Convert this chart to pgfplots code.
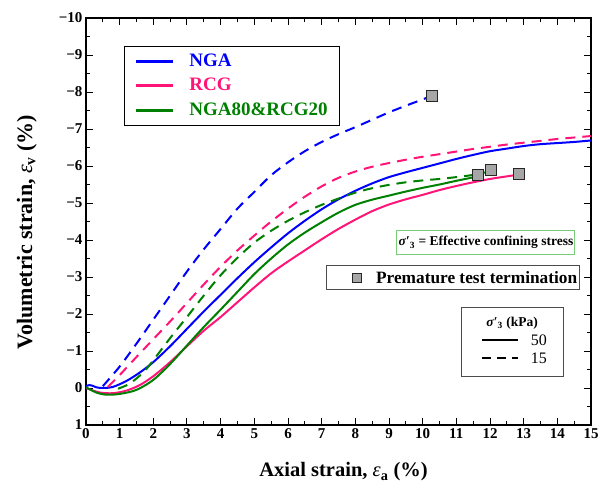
\documentclass[border=0pt]{standalone}
\usepackage{fontspec}
\setmainfont{Liberation Serif}
\usepackage{pgfplots}
\pgfplotsset{compat=1.18}
\usetikzlibrary{calc}
\definecolor{cblue}{RGB}{0,0,255}
\definecolor{cpink}{RGB}{255,20,120}
\definecolor{cgreen}{RGB}{0,128,0}
\definecolor{boxgreen}{RGB}{120,205,120}
\begin{document}
\begin{tikzpicture}
\begin{axis}[
  width=505pt, height=407pt, scale only axis,
  xmin=0, xmax=15, ymin=-10, ymax=1, y dir=reverse,
  xtick={0,1,...,15}, ytick={-10,-9,...,1},
  yticklabels={−10,−9,−8,−7,−6,−5,−4,−3,−2,−1,0,1},
  minor x tick num=1, minor y tick num=1,
  tick align=inside, tick pos=both,
  major tick length=7pt, minor tick length=4pt,
  every tick/.style={black, line width=1pt},
  axis line style={line width=1.2pt},
  /pgf/number format/assume math mode=true,
  ticklabel style={font=\bfseries\fontsize{15}{15}\selectfont},
  xlabel={Axial strain, {\mdseries\itshape ε}\textsubscript{a} (\%)},
  ylabel={Volumetric strain, {\mdseries\itshape ε}\textsubscript{v} (\%)},
  xlabel style={at={(axis description cs:0.51,-0.1155)}, anchor=center,
    font=\bfseries\fontsize{20.5}{20.5}\selectfont},
  ylabel style={at={(axis description cs:-0.117,0.474)}, anchor=center,
    font=\bfseries\fontsize{22}{22}\selectfont},
  legend style={at={(axis description cs:0.075,0.931)}, anchor=north west,
    draw=black, line width=1.1pt, inner xsep=10pt, inner ysep=4pt,
    font=\bfseries\fontsize{19}{19}\selectfont,
    nodes={inner sep=2pt, text height=13.5pt, text depth=4pt},
    row sep=3pt, column sep=13pt},
  legend cell align=left,
  legend image code/.code={\draw[#1, solid, line width=3pt] (0pt,0pt) -- (37pt,0pt);},
  every axis plot/.append style={line width=2pt},
]
% ---- solid: sigma'3 = 50 kPa
\addplot[cblue, smooth, tension=0.5] coordinates {
(0,-0.05) (0.1,-0.08) (0.2,-0.06) (0.3,-0.02) (0.5,0.0) (0.8,-0.03)
(1.2,-0.19) (1.6,-0.42) (2.0,-0.7) (2.5,-1.13) (3.0,-1.6) (3.5,-2.07)
(4.0,-2.52) (4.5,-2.97) (5.0,-3.4) (5.5,-3.8) (6.0,-4.18) (6.5,-4.52)
(7.0,-4.83) (7.5,-5.1) (8.0,-5.33) (8.5,-5.53) (9.0,-5.7) (9.5,-5.83)
(10.0,-5.95) (10.5,-6.07) (11.0,-6.19) (11.5,-6.3) (12.0,-6.4) (12.5,-6.47)
(13.0,-6.54) (13.5,-6.59) (14.0,-6.62) (14.5,-6.65) (15,-6.69)};
\addlegendentry{\textcolor{cblue}{NGA}}
\addplot[cpink, smooth, tension=0.5] coordinates {
(0,0) (0.4,0.12) (0.8,0.14) (1.2,0.07) (1.6,-0.08) (2.0,-0.32) (2.5,-0.7)
(3.0,-1.13) (3.5,-1.55) (4.0,-1.92) (4.5,-2.32) (5.0,-2.72) (5.5,-3.1)
(6.0,-3.42) (6.5,-3.72) (7.0,-4.02) (7.5,-4.3) (8.0,-4.55) (8.5,-4.78)
(9.0,-4.96) (9.5,-5.1) (10.0,-5.22) (10.5,-5.35) (11.0,-5.46) (11.5,-5.56)
(12.0,-5.65) (12.5,-5.72) (12.87,-5.77)};
\addlegendentry{\textcolor{cpink}{RCG}}
\addplot[cgreen, smooth, tension=0.5] coordinates {
(0,-0.02) (0.3,0.12) (0.6,0.18) (1.0,0.16) (1.5,0.05) (2.0,-0.22) (2.5,-0.65)
(3.0,-1.15) (3.5,-1.65) (4.0,-2.12) (4.5,-2.6) (5.0,-3.08) (5.5,-3.5)
(6.0,-3.88) (6.5,-4.2) (7.0,-4.48) (7.5,-4.74) (8.0,-4.95) (8.5,-5.09)
(9.0,-5.2) (9.5,-5.31) (10.0,-5.41) (10.5,-5.5) (11.0,-5.6) (11.65,-5.72)};
\addlegendentry{\textcolor{cgreen}{NGA80\&RCG20}}
% ---- dashed: sigma'3 = 15 kPa
\addplot[cblue, dash pattern=on 10pt off 7pt, smooth, tension=0.5, forget plot] coordinates {
(0.5,-0.05) (1.0,-0.58) (1.5,-1.2) (2.0,-1.85) (2.5,-2.5) (3.0,-3.15)
(3.5,-3.75) (4.0,-4.3) (4.5,-4.85) (5.0,-5.3) (5.5,-5.75) (6.0,-6.1)
(6.5,-6.4) (7.0,-6.65) (7.5,-6.86) (8.0,-7.05) (8.5,-7.25) (9.0,-7.45)
(9.5,-7.63) (10.0,-7.8) (10.27,-7.9)};
\addplot[cpink, dash pattern=on 10pt off 7pt, smooth, tension=0.5, forget plot] coordinates {
(0.65,-0.03) (1.0,-0.35) (1.5,-0.84) (2.0,-1.32) (2.5,-1.8) (3.0,-2.3)
(3.5,-2.8) (4.0,-3.28) (4.5,-3.72) (5.0,-4.12) (5.5,-4.5) (6.0,-4.85)
(6.5,-5.17) (7.0,-5.45) (7.5,-5.68) (8.0,-5.85) (8.5,-5.98) (9.0,-6.08)
(9.5,-6.17) (10.0,-6.25) (10.5,-6.32) (11.0,-6.39) (11.5,-6.46) (12.0,-6.52)
(12.5,-6.58) (13.0,-6.63) (13.5,-6.68) (14.0,-6.73) (14.5,-6.77) (15,-6.81)};
\addplot[cgreen, dash pattern=on 10pt off 7pt, smooth, tension=0.5, forget plot] coordinates {
(0.95,0.02) (1.3,-0.12) (1.7,-0.42) (2.0,-0.75) (2.5,-1.35) (3.0,-1.92)
(3.5,-2.5) (4.0,-3.05) (4.5,-3.52) (5.0,-3.93) (5.5,-4.25) (6.0,-4.52)
(6.5,-4.75) (7.0,-4.95) (7.5,-5.12) (8.0,-5.28) (8.5,-5.4) (9.0,-5.49)
(9.5,-5.56) (10.0,-5.61) (10.5,-5.65) (11.0,-5.7) (11.5,-5.76) (12.03,-5.86)};
% ---- premature test termination
\addplot[only marks, mark=square*, mark size=5.5pt, forget plot,
  mark options={draw=black!85, fill=gray!70, line width=0.8pt, solid}] coordinates {
(10.27,-7.9) (11.65,-5.76) (12.03,-5.89) (12.87,-5.78)};

\coordinate (SW) at (axis description cs:0,0);
\coordinate (NE) at (axis description cs:1,1);
% annotation boxes
\node[draw=boxgreen, line width=1pt, minimum width=178pt, minimum height=23.5pt,
  inner sep=0pt, font=\bfseries\fontsize{13.5}{13.5}\selectfont]
  at (axis description cs:0.792,0.448)
  {\textit{σ}′\textsubscript{3} = Effective confining stress};
\node[draw=black!70, line width=1pt, minimum width=253pt, minimum height=23.5pt, inner sep=0pt]
  at (axis description cs:0.726,0.362) {};
\node[draw=black!85, fill=gray!70, line width=0.6pt, minimum size=9pt, inner sep=0pt]
  at (axis description cs:0.537,0.362) {};
\node[anchor=west, inner sep=0pt, font=\bfseries\fontsize{17.3}{17.3}\selectfont]
  at (axis description cs:0.574,0.362) {Premature test termination};
\node[draw=black!70, line width=1pt, minimum width=102pt, minimum height=69pt, inner sep=0pt]
  at (axis description cs:0.8436,0.205) {};
\node[font=\bfseries\fontsize{13.5}{13.5}\selectfont, inner sep=0pt]
  at (axis description cs:0.8436,0.251) {\textit{σ}′\textsubscript{3} (kPa)};
\draw[line width=1.6pt] (axis description cs:0.784,0.209) -- (axis description cs:0.855,0.209);
\draw[line width=1.6pt, dash pattern=on 9pt off 6pt] (axis description cs:0.784,0.165) -- (axis description cs:0.855,0.165);
\node[font=\fontsize{16}{16}\selectfont, inner sep=0pt] at (axis description cs:0.897,0.209) {50};
\node[font=\fontsize{16}{16}\selectfont, inner sep=0pt] at (axis description cs:0.897,0.165) {15};
\end{axis}
\pgfresetboundingbox
\path ($(SW)+(-86pt,-65pt)$) rectangle ($(NE)+(19pt,18pt)$);
\end{tikzpicture}
\end{document}
